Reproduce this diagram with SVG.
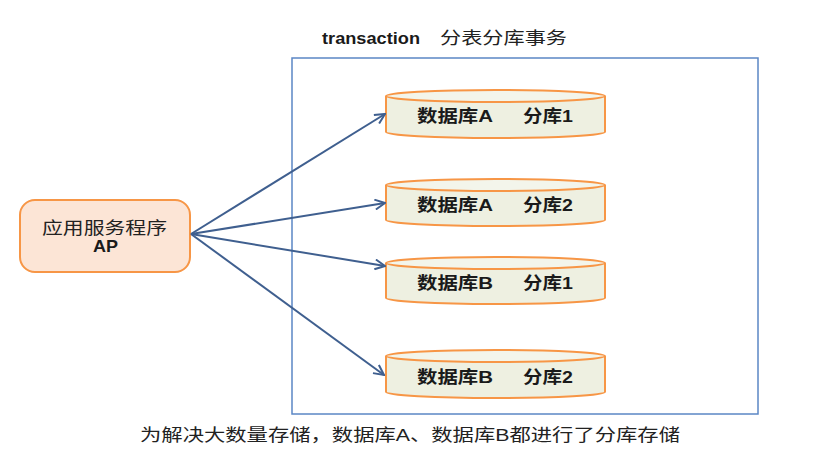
<svg xmlns="http://www.w3.org/2000/svg" width="831" height="451" viewBox="0 0 831 451">
<defs>
<style>
.cyl-body{fill:#EEF0E1;stroke:#F79646;stroke-width:2}
.cyl-top{fill:#F3F5EB;stroke:#F79646;stroke-width:2}
.lbl{font-family:"Liberation Sans","Noto Sans CJK SC",sans-serif;font-size:17px;font-weight:bold;fill:#1a1a1a}
.txt{font-family:"Liberation Sans","Noto Sans CJK SC",sans-serif;font-size:17px;fill:#222222}
.conn{stroke:#3F5F8F;stroke-width:2;fill:none;marker-end:url(#arr)}
</style>
<marker id="arr" viewBox="0 0 12 12" refX="11" refY="6" markerWidth="12" markerHeight="12" markerUnits="userSpaceOnUse" orient="auto">
<path d="M1,1 L11,6 L1,11" fill="none" stroke="#3F5F8F" stroke-width="2"/>
</marker>
</defs>
<rect width="831" height="451" fill="#ffffff"/>
<text x="322" y="44" class="lbl" textLength="98" lengthAdjust="spacingAndGlyphs">transaction</text>
<text x="440" y="44" class="txt" textLength="127" lengthAdjust="spacingAndGlyphs">分表分库事务</text>
<rect id="container" x="292" y="58" width="466" height="356" fill="none" stroke="#5B87C5" stroke-width="1.5"/>
<g id="ap">
<rect x="20" y="200" width="170" height="72" rx="15" ry="15" fill="#FCE5D6" stroke="#F79646" stroke-width="2"/>
<text x="42" y="234" class="txt" textLength="125" lengthAdjust="spacingAndGlyphs">应用服务程序</text>
<text x="93" y="252" class="lbl" textLength="25" lengthAdjust="spacingAndGlyphs">AP</text>
</g>
<g id="db1">
<path class="cyl-body" d="M386,96 L386,132 A109.5,6 0 0 0 605,132 L605,96"/>
<ellipse class="cyl-top" cx="495.5" cy="96" rx="109.5" ry="6"/>
<text x="417" y="122" class="lbl" textLength="76" lengthAdjust="spacingAndGlyphs">数据库A</text><text x="523" y="122" class="lbl" textLength="50" lengthAdjust="spacingAndGlyphs">分库1</text>
</g>
<g id="db2">
<path class="cyl-body" d="M386,185 L386,220 A109.5,6 0 0 0 605,220 L605,185"/>
<ellipse class="cyl-top" cx="495.5" cy="185" rx="109.5" ry="6"/>
<text x="417" y="211" class="lbl" textLength="76" lengthAdjust="spacingAndGlyphs">数据库A</text><text x="523" y="211" class="lbl" textLength="50" lengthAdjust="spacingAndGlyphs">分库2</text>
</g>
<g id="db3">
<path class="cyl-body" d="M386,263 L386,298 A109.5,6 0 0 0 605,298 L605,263"/>
<ellipse class="cyl-top" cx="495.5" cy="263" rx="109.5" ry="6"/>
<text x="417" y="289" class="lbl" textLength="76" lengthAdjust="spacingAndGlyphs">数据库B</text><text x="523" y="289" class="lbl" textLength="50" lengthAdjust="spacingAndGlyphs">分库1</text>
</g>
<g id="db4">
<path class="cyl-body" d="M386,356 L386,392 A109.5,6 0 0 0 605,392 L605,356"/>
<ellipse class="cyl-top" cx="495.5" cy="356" rx="109.5" ry="6"/>
<text x="417" y="383" class="lbl" textLength="76" lengthAdjust="spacingAndGlyphs">数据库B</text><text x="523" y="383" class="lbl" textLength="50" lengthAdjust="spacingAndGlyphs">分库2</text>
</g>
<g id="connectors">
<line class="conn" x1="191" y1="234" x2="385" y2="114"/>
<line class="conn" x1="191" y1="234" x2="385" y2="203"/>
<line class="conn" x1="191" y1="234" x2="385" y2="266"/>
<line class="conn" x1="191" y1="234" x2="384" y2="375"/>
</g>
<text x="140" y="441" class="txt" textLength="540" lengthAdjust="spacingAndGlyphs">为解决大数量存储，数据库A、数据库B都进行了分库存储</text>
</svg>
